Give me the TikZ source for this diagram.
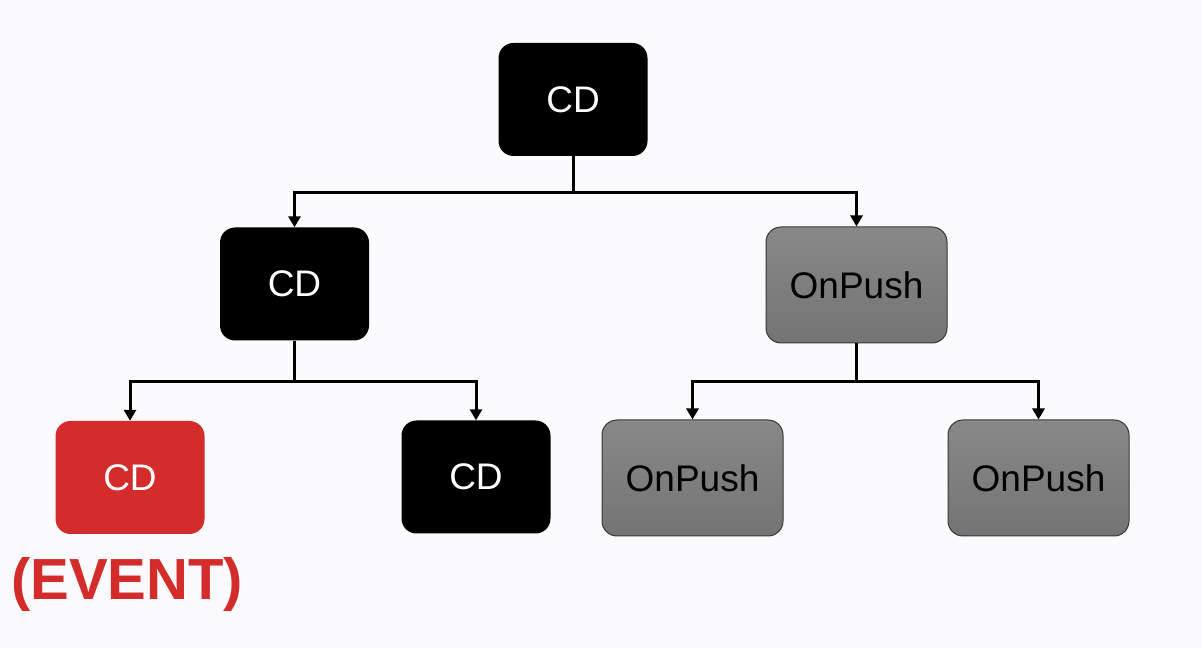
\documentclass[tikz,border=0pt]{standalone}
\usepackage{fontspec}
\setmainfont{Liberation Sans}
\usetikzlibrary{arrows.meta}
\definecolor{evred}{RGB}{212,43,43}
\definecolor{bgwhite}{RGB}{251,251,253}
\begin{document}
\begin{tikzpicture}[x=1pt, y=1pt, cd/.style={fill=black, text=white, rounded corners=15pt, minimum width=149pt, minimum height=113pt, font=\fontsize{37}{40}\selectfont}, push/.style={draw={rgb,255:red,55;green,55;blue,55}, line width=1pt, top color={rgb,255:red,136;green,136;blue,136}, bottom color={rgb,255:red,116;green,116;blue,116}, text=black, rounded corners=15pt, minimum width=181pt, minimum height=116pt, font=\fontsize{37}{40}\selectfont}, link/.style={line width=3pt, -{Triangle[width=12pt,length=11pt]}}]
	\fill[bgwhite] (0,0) rectangle (1202,648);
	\node[cd] (T) at (573,548.5) {CD};
	\node[cd] (L) at (294.5,364) {CD};
	\node[push] (R) at (856.5,363) {OnPush};
	\node[cd, fill=evred] (E) at (130,170.5) {CD};
	\node[cd] (M) at (476,171) {CD};
	\node[push] (P) at (692.5,170) {OnPush};
	\node[push] (Q) at (1038.5,170) {OnPush};
	\node[text=evred, font=\fontsize{58}{60}\selectfont\bfseries] (V) at (127,63) {(EVENT)};
	\draw[link] (T.south) -- ++(0,-36) -| (L.north);
	\draw[link] (T.south) -- ++(0,-36) -| (R.north);
	\draw[link] (L.south) -- ++(0,-40.5) -| (E.north);
	\draw[link] (L.south) -- ++(0,-40.5) -| (M.north);
	\draw[link] (R.south) -- ++(0,-38) -| (P.north);
	\draw[link] (R.south) -- ++(0,-38) -| (Q.north);
\end{tikzpicture}
\end{document}
